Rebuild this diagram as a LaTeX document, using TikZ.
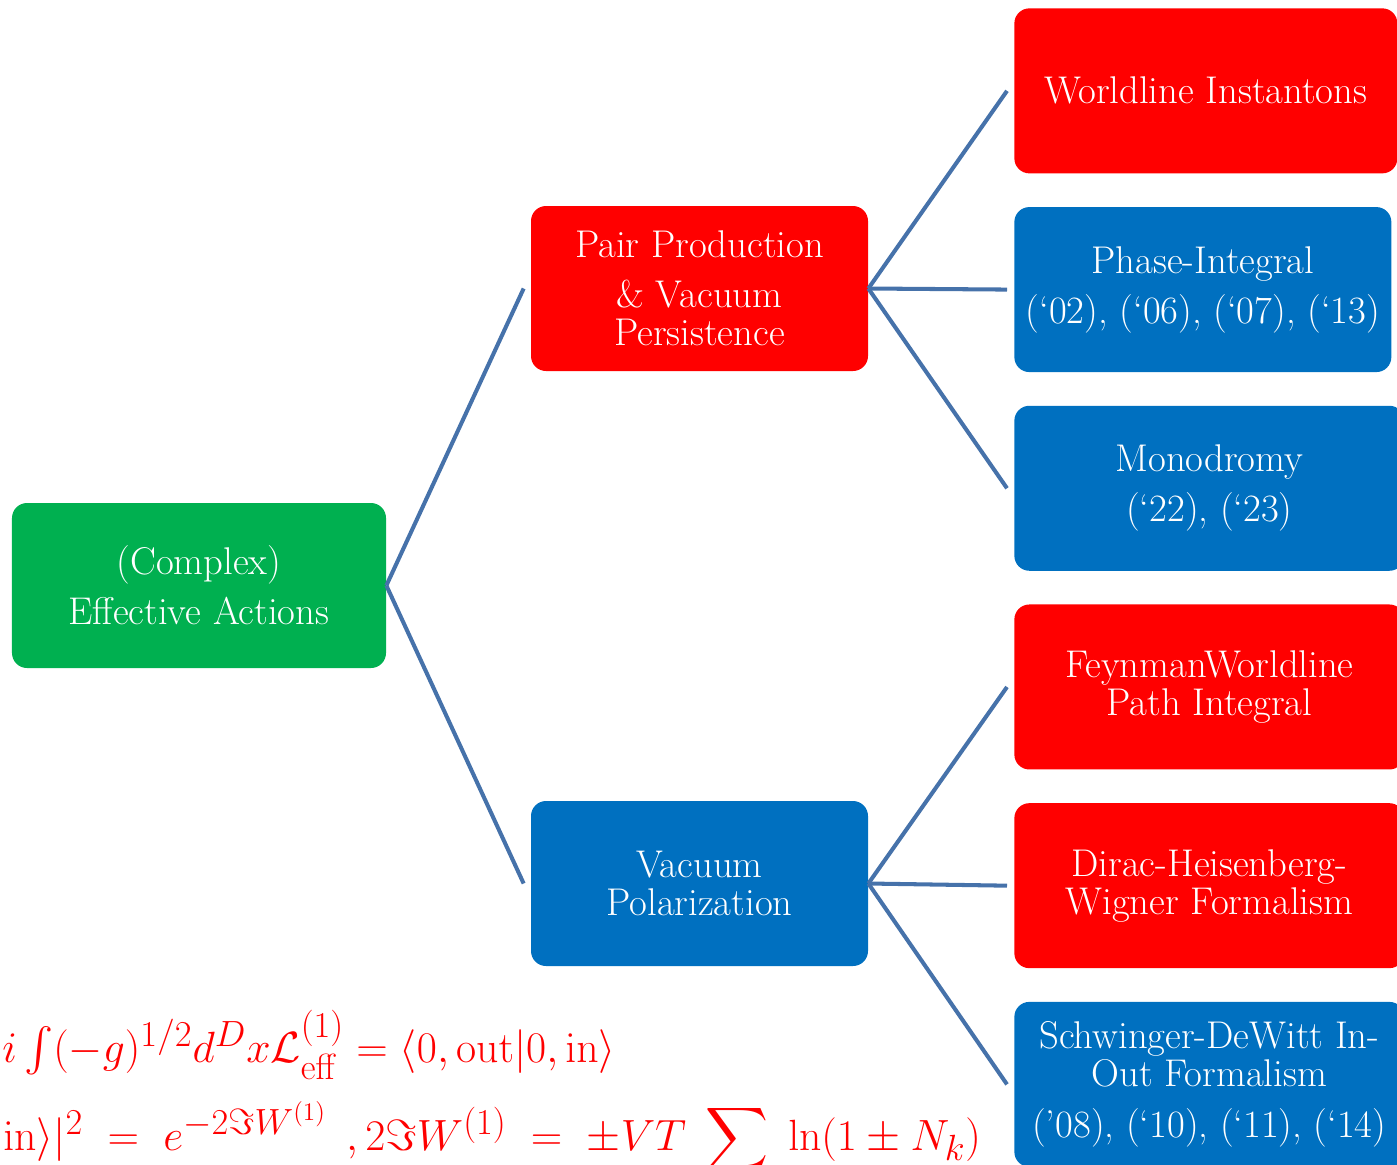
\documentclass[tikz,border=0pt]{standalone}
\usepackage{amsmath}
\usetikzlibrary{positioning}

\definecolor{boxred}{HTML}{FF0000}
\definecolor{boxblue}{HTML}{0070C0}
\definecolor{boxgreen}{HTML}{00B050}
\definecolor{linkblue}{HTML}{4672AA}

\begin{document}
\begin{tikzpicture}[
    box/.style={rectangle, rounded corners=0.3cm, text=white, align=center,
                minimum height=3.3cm, inner sep=2pt,
                font=\fontsize{22}{21.6}\selectfont},
    redbox/.style={box, fill=boxred},
    bluebox/.style={box, fill=boxblue},
    greenbox/.style={box, fill=boxgreen},
    link/.style={linkblue, line width=2.3pt},
    formula/.style={text=boxred, inner sep=0pt, font=\fontsize{28}{34}\selectfont}
]
\useasboundingbox (0,0) rectangle (27.94,-23.28);

% Root and middle level
\node[greenbox, minimum width=7.48cm] (root) at (3.98,-11.71) {(Complex)\\[7pt]Effective Actions};
\node[redbox, minimum width=6.74cm] (pair) at (13.99,-5.77) {Pair Production\\[7pt]\& Vacuum\\Persistence};
\node[bluebox, minimum width=6.74cm] (vac) at (13.99,-17.67) {Vacuum\\Polarization};

% Right column
\node[redbox, minimum width=7.66cm, anchor=north west] (wi) at (20.28,-0.16) {Worldline Instantons};
\node[bluebox, minimum width=7.54cm, below=0.66cm of wi.south west, anchor=north west] (phase) {Phase-Integral\\[7pt](`02), (`06), (`07), (`13)};
\node[bluebox, minimum width=7.8cm, below=0.66cm of phase.south west, anchor=north west] (mono) {Monodromy\\[7pt](`22), (`23)};
\node[redbox, minimum width=7.8cm, below=0.66cm of mono.south west, anchor=north west] (feyn) {FeynmanWorldline\\Path Integral};
\node[redbox, minimum width=7.8cm, below=0.66cm of feyn.south west, anchor=north west] (dhw) {Dirac-Heisenberg-\\Wigner Formalism};
\node[bluebox, minimum width=7.8cm, below=0.66cm of dhw.south west, anchor=north west] (sdw) {Schwinger-DeWitt In-\\Out Formalism\\[7pt](’08), (`10), (`11), (`14)};

% Links
\draw[link] (root.east) -- ([xshift=-0.14cm]pair.west);
\draw[link] (root.east) -- ([xshift=-0.14cm]vac.west);
\foreach \n in {wi, phase, mono}
  \draw[link] (pair.east) -- ([xshift=-0.14cm]\n.west);
\foreach \n in {feyn, dhw, sdw}
  \draw[link] (vac.east) -- ([xshift=-0.14cm]\n.west);

% Formulas
\node[formula, anchor=base west] (eqa) at (0.04,-21.24)
  {$i\int(-g)^{1/2}d^Dx\mathcal{L}^{(1)}_{\mathrm{eff}} = \langle 0,\mathrm{out}|0,\mathrm{in}\rangle$};
\node[formula, anchor=base west] (eqb) at (0.06,-23.0)
  {$\mathrm{in}\rangle|^2 \;=\; e^{-2\Im W^{(1)}}\;\,,2\Im W^{(1)} \;=\; \pm VT\;\displaystyle\sum\;\ln(1\pm N_k)$};
\end{tikzpicture}
\end{document}
